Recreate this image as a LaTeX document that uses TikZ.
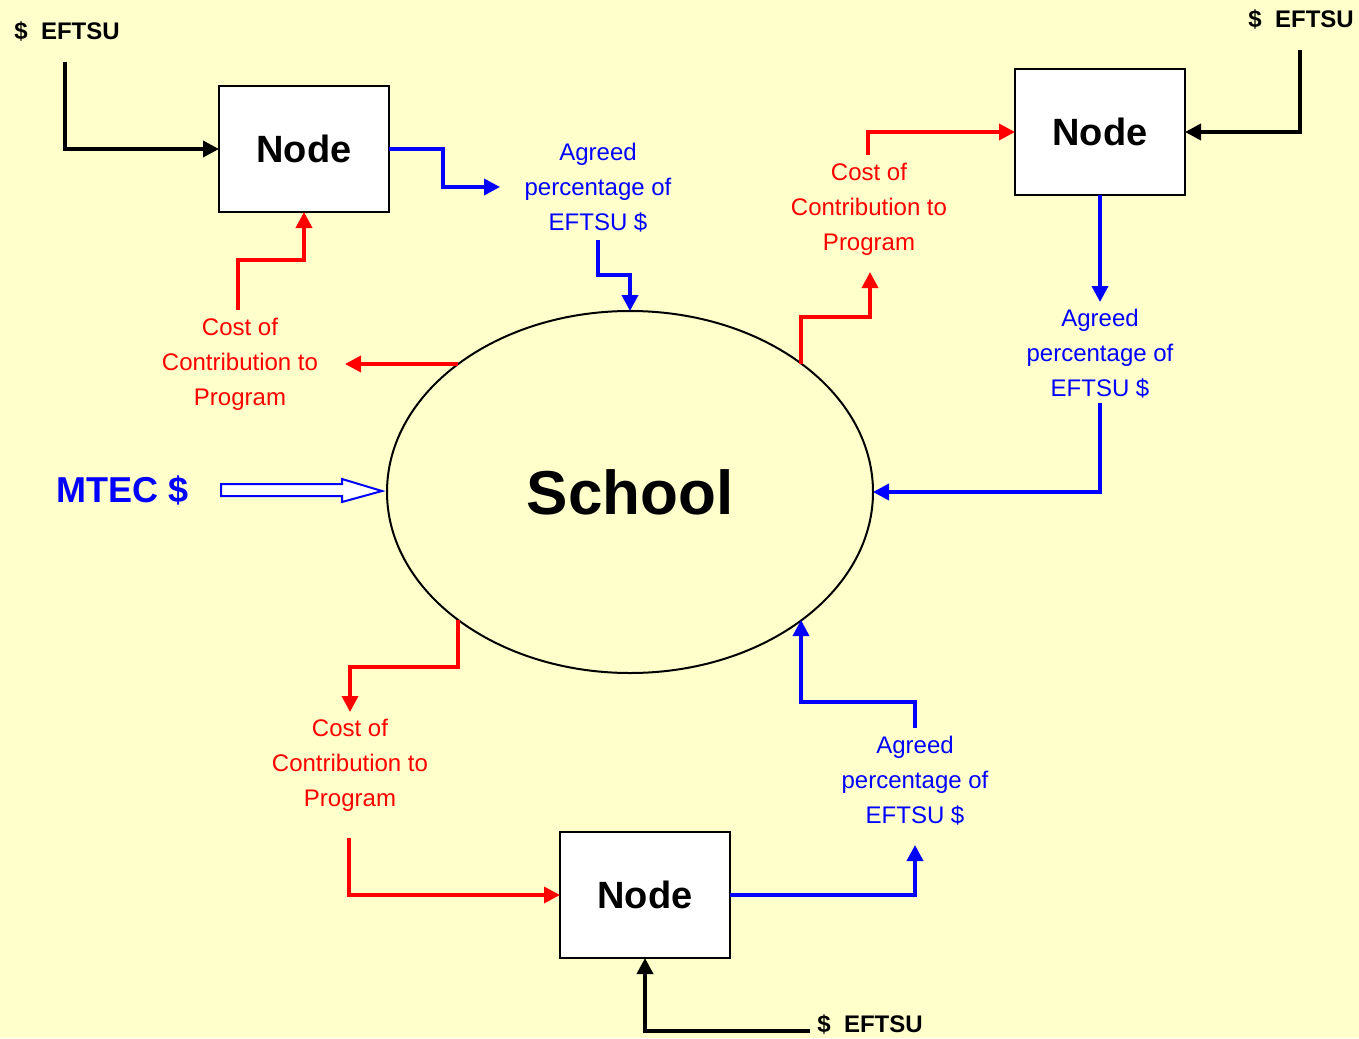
\documentclass[tikz,border=0pt]{standalone}
\usepackage{fontspec}
\setmainfont{Liberation Sans}
\usetikzlibrary{arrows.meta,shapes.geometric}
\definecolor{bg}{HTML}{FFFFCC}
\definecolor{rd}{RGB}{255,0,0}
\definecolor{bl}{RGB}{0,0,255}
\begin{document}
\begin{tikzpicture}[x=0.5pt,y=-0.5pt,
  box/.style={draw=black, fill=white, line width=1pt, minimum width=85pt, minimum height=63pt, inner sep=0pt, outer sep=0pt, font=\fontsize{19}{22}\selectfont\bfseries},
  lbl/.style={align=center, font=\fontsize{12}{17.5}\selectfont, inner sep=0pt},
  redl/.style={lbl, text=rd},
  bluel/.style={lbl, text=bl},
  conn/.style={line width=1.8pt, -{Triangle[length=8pt,width=8pt]}},
  rc/.style={conn, draw=rd},
  bc/.style={conn, draw=bl},
  kc/.style={conn, draw=black},
  eft/.style={font=\fontsize{12}{14}\selectfont\bfseries, inner sep=0pt, anchor=west}
]
\fill[bg] (0,0) rectangle (1359,1038);
\useasboundingbox (0,0) rectangle (1359,1038);

% school
\node[draw, ellipse, line width=1pt, minimum width=243pt, minimum height=181pt, inner sep=0pt, outer sep=0pt, font=\fontsize{31}{36}\selectfont\bfseries] (school) at (630,492) {School};

% nodes
\node[box] (n1) at (304,149) {Node};
\node[box] (n2) at (1100,132) {Node};
\node[box] (n3) at (645,895) {Node};

% EFTSU labels
\node[eft] (f1) at (14,31) {\$\ \ EFTSU};
\node[eft] (f2) at (1248,19) {\$\ \ EFTSU};
\node[eft] (f3) at (817,1024) {\$\ \ EFTSU};

% text labels
\node[bluel] (t1) at (598,188) {Agreed\\percentage of\\EFTSU \$};
\node[redl] (t2) at (240,364) {Cost of\\Contribution to\\Program};
\node[redl] (t3) at (869,209) {Cost of\\Contribution to\\Program};
\node[bluel] (t4) at (1100,354) {Agreed\\percentage of\\EFTSU \$};
\node[redl] (t5) at (350,765) {Cost of\\Contribution to\\Program};
\node[bluel] (t6) at (915,781) {Agreed\\percentage of\\EFTSU \$};

\node[font=\fontsize{18}{20}\selectfont\bfseries, text=bl, inner sep=0pt] (mtec) at (123,490) {MTEC \$};

% coordinates
\coordinate (k1) at (65,62);
\coordinate (k2) at (1300,50);
\coordinate (k3) at (810,1031);
\coordinate (e135) at (458,364);
\coordinate (e45) at (801,364);
\coordinate (e225) at (458,620);
\coordinate (e315) at (801,620);
\coordinate (c1) at (500,187);
\coordinate (c2) at (598,240);
\coordinate (c3) at (345,364);
\coordinate (c4) at (238,310);
\coordinate (c5) at (870,272);
\coordinate (c6) at (868,155);
\coordinate (c7) at (1100,302);
\coordinate (c8) at (1100,403);
\coordinate (c9) at (350,712);
\coordinate (c10) at (349,838);
\coordinate (c11) at (915,845);
\coordinate (c12) at (915,728);

% black connectors
\draw[kc] (k1) |- (n1.west);
\draw[kc] (k2) |- (n2.east);
\draw[kc] (k3) -| (n3.south);

% blue connectors
\draw[bc] (n1.east) -| (443,187) -- (c1);
\draw[bc] (c2) -- (598,275) -| (school.north);
\draw[bc] (n2.south) -- (c7);
\draw[bc] (c8) |- (school.east);
\draw[bc] (n3.east) -| (c11);
\draw[bc] (c12) -- (915,702) -| (e315);

% red connectors
\draw[rc] (e135) -- (c3);
\draw[rc] (c4) -- (238,260) -| (n1.south);
\draw[rc] (e45) -- (801,317) -| (c5);
\draw[rc] (c6) |- (n2.west);
\draw[rc] (e225) -- (458,667) -| (c9);
\draw[rc] (c10) |- (n3.west);

% MTEC hollow arrow
\draw[bl, fill=white, line width=1pt] (221,484) -- (342,484) -- (342,479) -- (382,491) -- (342,502) -- (342,496) -- (221,496) -- cycle;
\end{tikzpicture}
\end{document}
